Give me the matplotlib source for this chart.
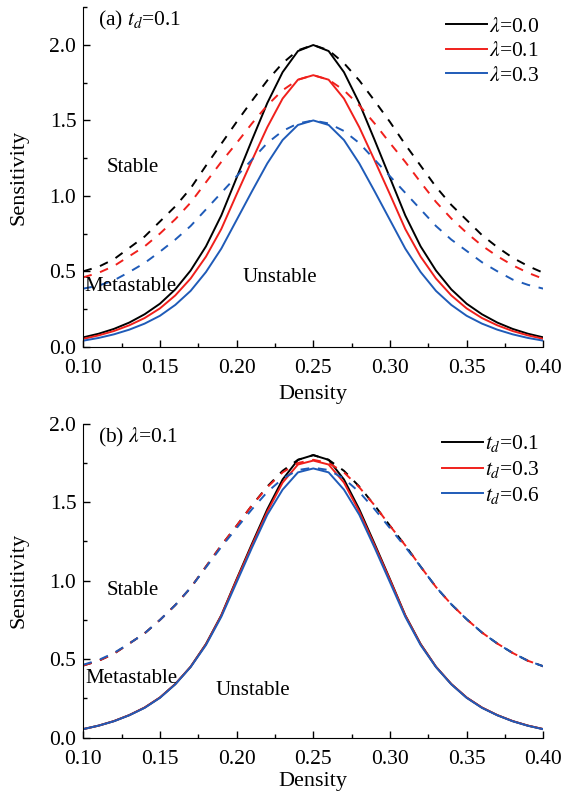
import numpy as np
import matplotlib
matplotlib.use('Agg')
import matplotlib.pyplot as plt
from matplotlib.ticker import MultipleLocator

plt.rcParams['font.family'] = ['Liberation Serif', 'DejaVu Serif']
plt.rcParams['mathtext.fontset'] = 'stix'

# density grid
density = np.round(np.arange(0.10, 0.4001, 0.01), 2)

# (a) t_d = 0.1, lambda = 0.0 / 0.1 / 0.3
a_solid_l00 = [0.062, 0.086, 0.118, 0.16, 0.215, 0.285, 0.38, 0.505, 0.665, 0.87, 1.12, 1.37, 1.615, 1.82, 1.96, 2.00,
               1.96, 1.82, 1.615, 1.37, 1.12, 0.87, 0.665, 0.505, 0.38, 0.285, 0.215, 0.16, 0.118, 0.086, 0.062]
a_solid_l01 = [0.052, 0.075, 0.104, 0.142, 0.19, 0.254, 0.34, 0.452, 0.597, 0.78, 1.01, 1.235, 1.455, 1.645, 1.77, 1.80,
               1.77, 1.645, 1.455, 1.235, 1.01, 0.78, 0.597, 0.452, 0.34, 0.254, 0.19, 0.142, 0.104, 0.075, 0.052]
a_solid_l03 = [0.040, 0.058, 0.082, 0.113, 0.153, 0.205, 0.277, 0.37, 0.495, 0.65, 0.84, 1.03, 1.215, 1.37, 1.47, 1.50,
               1.47, 1.37, 1.215, 1.03, 0.84, 0.65, 0.495, 0.37, 0.277, 0.205, 0.153, 0.113, 0.082, 0.058, 0.040]
a_dash_l00 = [0.50, 0.53, 0.58, 0.655, 0.73, 0.83, 0.93, 1.05, 1.20, 1.345, 1.49, 1.63, 1.765, 1.88, 1.965, 2.00,
              1.965, 1.88, 1.765, 1.63, 1.49, 1.34, 1.20, 1.06, 0.94, 0.84, 0.74, 0.66, 0.59, 0.535, 0.49]
a_dash_l01 = [0.46, 0.49, 0.535, 0.60, 0.665, 0.75, 0.845, 0.955, 1.09, 1.225, 1.35, 1.48, 1.60, 1.70, 1.77, 1.80,
              1.77, 1.70, 1.60, 1.48, 1.35, 1.225, 1.09, 0.96, 0.85, 0.755, 0.67, 0.60, 0.54, 0.49, 0.45]
a_dash_l03 = [0.385, 0.405, 0.44, 0.495, 0.555, 0.63, 0.71, 0.80, 0.91, 1.02, 1.13, 1.24, 1.35, 1.43, 1.48, 1.50,
              1.48, 1.43, 1.35, 1.24, 1.13, 1.02, 0.91, 0.80, 0.71, 0.635, 0.56, 0.50, 0.445, 0.41, 0.385]

# (b) lambda = 0.1, t_d = 0.1 / 0.3 / 0.6
b_solid_t01 = [0.055, 0.077, 0.106, 0.144, 0.192, 0.256, 0.342, 0.452, 0.597, 0.78, 1.01, 1.235, 1.455, 1.645, 1.77, 1.80,
               1.77, 1.645, 1.455, 1.235, 1.01, 0.78, 0.597, 0.452, 0.342, 0.256, 0.192, 0.144, 0.106, 0.077, 0.055]
b_solid_t03 = [0.055, 0.077, 0.106, 0.144, 0.192, 0.256, 0.342, 0.452, 0.595, 0.778, 1.005, 1.225, 1.44, 1.625, 1.74, 1.765,
               1.74, 1.625, 1.44, 1.225, 1.005, 0.778, 0.595, 0.452, 0.342, 0.256, 0.192, 0.144, 0.106, 0.077, 0.055]
b_solid_t06 = [0.055, 0.077, 0.105, 0.143, 0.19, 0.254, 0.34, 0.45, 0.59, 0.77, 0.99, 1.21, 1.42, 1.58, 1.69, 1.715,
               1.69, 1.58, 1.42, 1.21, 0.99, 0.77, 0.59, 0.45, 0.34, 0.254, 0.19, 0.143, 0.105, 0.076, 0.054]
b_dash_t01 = [0.46, 0.49, 0.535, 0.60, 0.665, 0.75, 0.845, 0.955, 1.09, 1.225, 1.35, 1.48, 1.60, 1.70, 1.77, 1.80,
              1.77, 1.70, 1.60, 1.48, 1.35, 1.225, 1.09, 0.96, 0.85, 0.755, 0.67, 0.60, 0.54, 0.49, 0.455]
b_dash_t03 = [0.46, 0.49, 0.535, 0.60, 0.665, 0.75, 0.845, 0.955, 1.09, 1.225, 1.35, 1.48, 1.595, 1.69, 1.75, 1.77,
              1.75, 1.69, 1.595, 1.48, 1.35, 1.225, 1.09, 0.96, 0.85, 0.755, 0.67, 0.60, 0.54, 0.49, 0.455]
b_dash_t06 = [0.465, 0.495, 0.54, 0.60, 0.665, 0.75, 0.845, 0.955, 1.085, 1.215, 1.335, 1.455, 1.565, 1.65, 1.705, 1.72,
              1.705, 1.65, 1.565, 1.455, 1.335, 1.215, 1.09, 0.96, 0.85, 0.755, 0.67, 0.60, 0.54, 0.49, 0.455]

colors = ['black', '#f0201c', '#1f5bb8']
a_labels = [r'$\lambda$=0.0', r'$\lambda$=0.1', r'$\lambda$=0.3']
b_labels = [r'$t_d$=0.1', r'$t_d$=0.3', r'$t_d$=0.6']

fig = plt.figure(figsize=(5.72, 7.93), dpi=100)
ax1 = fig.add_axes([0.1456, 0.5628, 0.8042, 0.428])
ax2 = fig.add_axes([0.1456, 0.0697, 0.8042, 0.396])

def style(ax, ytop, xpad):
    ax.set_xlim(0.10, 0.40)
    ax.set_ylim(0, ytop)
    ax.spines['top'].set_visible(False)
    ax.spines['right'].set_visible(False)
    ax.xaxis.set_major_locator(MultipleLocator(0.05))
    ax.xaxis.set_minor_locator(MultipleLocator(0.025))
    ax.yaxis.set_major_locator(MultipleLocator(0.5))
    ax.yaxis.set_minor_locator(MultipleLocator(0.25))
    ax.xaxis.set_major_formatter(plt.FormatStrFormatter('%.2f'))
    ax.yaxis.set_major_formatter(plt.FormatStrFormatter('%.1f'))
    ax.tick_params(which='both', direction='in', labelsize=15.5, width=1.0)
    ax.tick_params(which='major', length=5)
    ax.tick_params(which='minor', length=3)
    ax.tick_params(axis='x', which='major', pad=9)
    ax.tick_params(axis='y', which='major', pad=5)
    ax.set_xlabel('Density', fontsize=16, labelpad=xpad)
    ax.set_ylabel('Sensitivity', fontsize=16, labelpad=15)

dash = (0, (4.5, 4.5))
lw = 1.4

for s, d, c, lab in zip([a_solid_l00, a_solid_l01, a_solid_l03], [a_dash_l00, a_dash_l01, a_dash_l03], colors, a_labels):
    ax1.plot(density, d, color=c, lw=lw, linestyle=dash)
    ax1.plot(density, s, color=c, lw=lw, label=lab)
style(ax1, 2.25, 5)
ax1.legend(loc='upper right', bbox_to_anchor=(1.02, 1.01), frameon=False, fontsize=15.5,
           handlelength=1.9, labelspacing=0.2, handletextpad=0.1, borderaxespad=0.2)
ax1.text(0.1096, 2.16, r'(a) $t_d$=0.1', fontsize=15.5, va='center')
ax1.text(0.115, 1.19, 'Stable', fontsize=15, va='center')
ax1.text(0.1005, 0.40, 'Metastable', fontsize=15, va='center')
ax1.text(0.204, 0.456, 'Unstable', fontsize=15, va='center')

for s, d, c, lab in zip([b_solid_t01, b_solid_t03, b_solid_t06], [b_dash_t01, b_dash_t03, b_dash_t06], colors, b_labels):
    ax2.plot(density, d, color=c, lw=lw, linestyle=dash)
    ax2.plot(density, s, color=c, lw=lw, label=lab)
style(ax2, 2.0, 2)
ax2.legend(loc='upper right', bbox_to_anchor=(1.02, 1.01), frameon=False, fontsize=15.5,
           handlelength=1.9, labelspacing=0.22, handletextpad=0.1, borderaxespad=0.2)
ax2.text(0.1096, 1.91, r'(b) $\lambda$=0.1', fontsize=15.5, va='center')
ax2.text(0.115, 0.935, 'Stable', fontsize=15, va='center')
ax2.text(0.1015, 0.38, 'Metastable', fontsize=15, va='center')
ax2.text(0.186, 0.30, 'Unstable', fontsize=15, va='center')

fig.savefig('out.png', dpi=100)
